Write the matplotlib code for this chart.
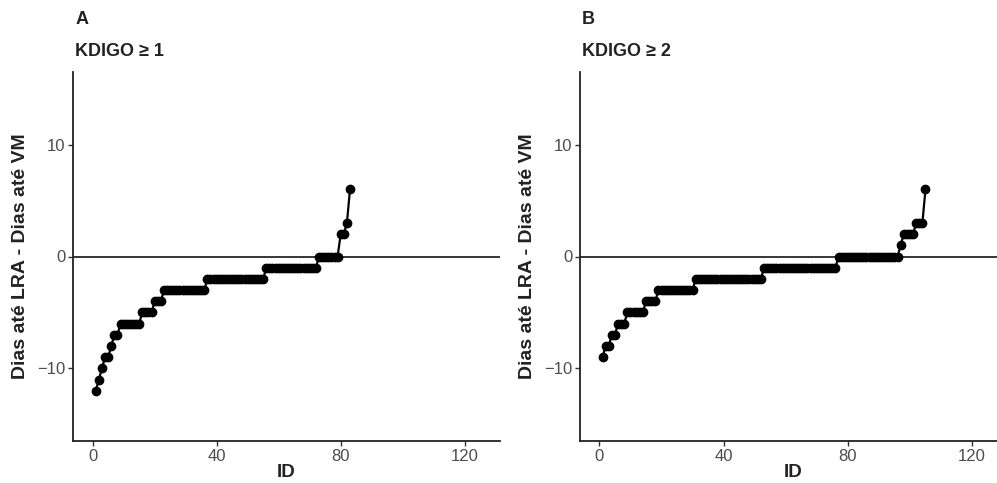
import numpy as np
import matplotlib
matplotlib.use("Agg")
import matplotlib.pyplot as plt

plt.rcParams['font.family'] = ['Liberation Sans', 'DejaVu Sans']

# Panel A: KDIGO >= 1  (value, count of consecutive IDs)
levels_a = [-12, -11, -10, -9, -8, -7, -6, -5, -4, -3, -2, -1, 0, 2, 3, 6]
counts_a = [1, 1, 1, 2, 1, 2, 7, 4, 3, 14, 19, 17, 7, 2, 1, 1]
# Panel B: KDIGO >= 2
levels_b = [-9, -8, -7, -6, -5, -4, -3, -2, -1, 0, 1, 2, 3, 6]
counts_b = [1, 2, 2, 3, 6, 4, 12, 22, 24, 20, 1, 4, 3, 1]

panel_letters = ["A", "B"]
panel_titles = ["KDIGO \u2265 1", "KDIGO \u2265 2"]
x_ticks = [0, 40, 80, 120]
y_ticks = [-10, 0, 10]
x_label = "ID"
y_label = "Dias at\u00e9 LRA - Dias at\u00e9 VM"

W, H = 997, 483
fig = plt.figure(figsize=(W / 100, H / 100), dpi=100)

def px_axes(l, r, t, b):
    return fig.add_axes([l / W, 1 - b / H, (r - l) / W, (b - t) / H])

axes_px = [(73.3, 499.6, 72, 441), (580, 1007, 72, 441)]
data = [(levels_a, counts_a), (levels_b, counts_b)]

for i, (ax_px, (lv, ct)) in enumerate(zip(axes_px, data)):
    ax = px_axes(*ax_px)
    y = np.repeat(lv, ct)
    x = np.arange(1, len(y) + 1)
    ax.axhline(0, color='black', lw=1.1, zorder=1)
    ax.plot(x, y, '-o', color='black', lw=1.6, ms=6, zorder=3)
    ax.set_xlim(-6.25, 131.25)
    ax.set_ylim(-16.5, 16.5)
    ax.set_xticks(x_ticks)
    ax.set_yticks(y_ticks)
    for s in ['top', 'right']:
        ax.spines[s].set_visible(False)
    for s in ['left', 'bottom']:
        ax.spines[s].set_color('#222222')
        ax.spines[s].set_linewidth(1.3)
    ax.tick_params(axis='both', colors='#333333', labelcolor='#4D4D4D',
                   labelsize=12, length=3.5, width=1.0, direction='out', pad=2)
    ax.set_xlabel(x_label, fontsize=13.5, fontweight='bold', color='#222222', labelpad=0)
    ax.set_ylabel(y_label, fontsize=14, fontweight='bold', color='#222222', labelpad=6)
    lx = ax_px[0] + 2
    fig.text(lx / W, 1 - 20 / H, panel_letters[i], fontsize=13, fontweight='bold',
             color='#222222', ha='left', va='center')
    fig.text(lx / W, 1 - 52 / H, panel_titles[i], fontsize=13, fontweight='bold',
             color='#222222', ha='left', va='center')

fig.savefig("out.png", dpi=100)
